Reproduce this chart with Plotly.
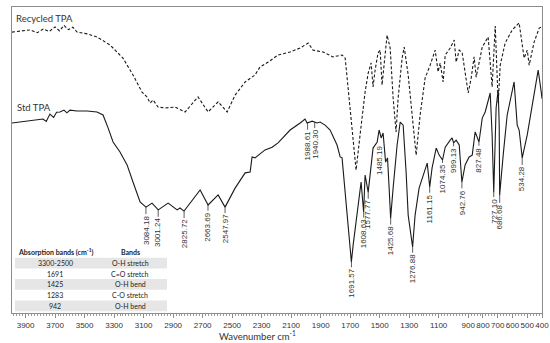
import numpy as np
import plotly.graph_objects as go

# ---------------- data ----------------
# Std TPA spectrum (wavenumber cm-1, transmittance a.u.)
std_wn = [3992, 3782, 3760, 3735, 3710, 3690, 3667, 3640, 3620, 3599, 3551, 3484, 3416, 3375,
          3341, 3307, 3260, 3212, 3172, 3124, 3084, 3043, 3001, 2934, 2873, 2853, 2826,
          2717, 2663, 2595, 2548, 2480, 2412, 2378, 2365, 2345, 2277, 2229, 2189, 2107,
          2039, 2006, 1992, 1958, 1924, 1904, 1870, 1836, 1789, 1768, 1755, 1734, 1714,
          1692, 1680, 1646, 1626, 1609, 1599, 1578, 1558, 1545, 1517, 1504, 1490, 1477,
          1460, 1447, 1436, 1426, 1409, 1382, 1361, 1341, 1321, 1307, 1277, 1260, 1233,
          1199, 1178, 1161, 1145, 1117, 1097, 1074, 1056, 1022, 1009, 999, 982, 961, 943,
          921, 894, 873, 853, 827, 805, 785, 751, 738, 727, 711, 697, 690, 687, 663, 636,
          589, 568, 555, 534, 500, 466, 426, 405, 400]
std_t = [62.1, 63.4, 62.6, 65.0, 63.9, 65.6, 65.7, 66.3, 65.4, 66.3, 66.0, 66.0, 65.7, 64.7,
         60.5, 55.9, 52.6, 48.4, 42.8, 36.3, 34.6, 35.9, 33.7, 35.9, 33.7, 34.3, 33.3,
         40.2, 35.3, 38.6, 34.6, 40.8, 45.8, 46.1, 51.0, 50.7, 53.3, 54.2, 55.6, 59.8,
         62.1, 63.4, 62.1, 62.7, 62.1, 62.4, 61.4, 59.8, 54.9, 51.0, 50.7, 39.5, 26.5,
         16.7, 22.2, 36.3, 42.8, 33.0, 45.1, 39.5, 49.3, 53.9, 55.9, 59.8, 57.2, 58.8,
         49.3, 50.7, 40.8, 31.0, 40.8, 54.9, 62.4, 61.4, 46.1, 32.0, 21.6, 32.0, 40.8,
         46.1, 49.0, 41.2, 47.4, 53.9, 51.6, 50.0, 54.2, 56.5, 57.2, 55.6, 56.5, 54.9, 42.8,
         48.4, 51.0, 51.6, 59.2, 55.9, 63.7, 65.7, 71.9, 58.2, 39.5, 67.0, 72.9, 61.4, 38.6, 51.6, 64.7,
         75.5, 61.4, 59.8, 50.7, 58.2, 68.0, 79.4, 72.2, 70.0]

# Recycled TPA spectrum
rec_wn = [3992, 3930, 3870, 3820, 3780, 3740, 3700, 3670, 3640, 3610, 3580, 3551, 3480, 3416,
          3328, 3240, 3172, 3111, 3077, 3056, 3036, 3002, 2955, 2887, 2819, 2731, 2663,
          2595, 2534, 2480, 2412, 2345, 2311, 2256, 2189, 2107, 2039, 1985, 1951, 1884,
          1816, 1755, 1734, 1714, 1687, 1660, 1633, 1599, 1578, 1558, 1545, 1531, 1511,
          1497, 1484, 1470, 1450, 1429, 1409, 1389, 1375, 1348, 1334, 1307, 1280, 1253,
          1226, 1192, 1158, 1124, 1104, 1090, 1070, 1056, 1022, 995, 982, 961, 941, 921,
          900, 880, 860, 846, 826, 805, 765, 738, 717, 697, 683, 650, 602, 555, 521, 500,
          487, 453, 419, 400]
rec_t = [91.8, 92.2, 92.5, 91.6, 92.8, 92.0, 93.5, 92.2, 94.0, 92.6, 93.4, 91.8, 91.2, 90.2,
         87.6, 83.3, 77.8, 72.2, 70.6, 68.6, 69.6, 67.3, 67.0, 67.3, 65.7, 70.6, 65.7,
         69.0, 65.7, 71.2, 75.5, 77.8, 80.4, 82.0, 84.3, 85.3, 86.6, 88.2, 85.9, 85.3,
         83.7, 84.3, 83.3, 73.5, 59.2, 46.7, 58.2, 72.2, 78.4, 81.7, 73.9, 79.4, 85.0,
         85.9, 74.5, 82.0, 90.8, 86.6, 70.3, 59.2, 70.3, 83.3, 86.9, 77.8, 64.7, 51.6,
         64.7, 76.8, 81.0, 85.9, 78.8, 81.7, 75.5, 84.3, 86.6, 89.2, 82.0, 85.9, 85.0, 77.8,
         71.9, 76.8, 83.7, 77.1, 82.0, 86.9, 90.2, 73.9, 93.8, 68.6, 81.0, 88.2, 92.5, 94.8, 83.3, 85.9,
         81.0, 88.6, 93.1, 93.5]

# Peak labels on the Std TPA curve
peak_labels = ["3084.18", "3001.24", "2825.72", "2663.69", "2547.97", "1988.61", "1940.30",
               "1691.57", "1608.63", "1577.77", "1485.19", "1425.68", "1276.88", "1161.15",
               "1074.35", "999.13", "942.76", "827.48", "727.10", "686.68", "534.28"]

# x-axis tick labels
tick_labels = [3900, 3700, 3500, 3300, 3100, 2900, 2700, 2500, 2300, 2100, 1900, 1700,
               1500, 1300, 1100, 900, 800, 700, 600, 500, 400]

# Inset table
table_header = ["<b>Absorption bands (cm<sup>-1</sup>)</b>", "<b>Bands</b>"]
band_ranges = ["3300-2500", "1691", "1425", "1283", "942"]
band_names = ["O-H stretch", "C=O stretch", "O-H bend", "C-O stretch", "O-H bend"]

series_names = ["Recycled TPA", "Std TPA"]

# ---------------- styling / layout ----------------
W, H = 550, 343
ML, MR, MT, MB = 12, 8, 7, 30
PW, PH = W - ML - MR, H - MT - MB
label_offsets = [23, 23, 23, 22, 22, 23, 22, 22, 23, 23, 0, 23, 22, 22, 19, 17.5, 20.5,
                 18, 19.5, 22.5, 21.5]
label_anchor_shift = {"1485.19": 1456}


def px_x(px):
    return (px - ML) / PW


def px_y(py):
    return (H - MB - py) / PH


fig = go.Figure()
fig.add_trace(go.Scatter(x=rec_wn, y=rec_t, mode="lines", name=series_names[0],
                         line=dict(color="#1a1a1a", width=1.1, dash="3px,2px"),
                         showlegend=False, hoverinfo="skip"))
fig.add_trace(go.Scatter(x=std_wn, y=std_t, mode="lines", name=series_names[1],
                         line=dict(color="#1a1a1a", width=1.1),
                         showlegend=False, hoverinfo="skip"))

wn_asc = np.array(std_wn[::-1], dtype=float)
t_asc = np.array(std_t[::-1], dtype=float)
for lab, off in zip(peak_labels, label_offsets):
    xv = label_anchor_shift.get(lab, float(lab))
    yv = float(np.interp(xv, wn_asc, t_asc))
    fig.add_annotation(x=xv, y=yv, text=lab, textangle=-90, showarrow=True,
                       arrowhead=0, arrowwidth=0.8, arrowcolor="#333",
                       ax=(-6 if off == 0 else 0), ay=off, standoff=0,
                       font=dict(family="Liberation Sans", size=8, color="#333"))

# series name labels
fig.add_annotation(xref="paper", x=px_x(14), y=96.1, text=series_names[0], showarrow=False,
                   xanchor="left", yanchor="middle",
                   font=dict(family="Lato", size=9.5, color="#333"))
fig.add_annotation(xref="paper", x=px_x(15), y=67.0, text=series_names[1], showarrow=False,
                   xanchor="left", yanchor="middle",
                   font=dict(family="Lato", size=9.5, color="#333"))

# axis title
fig.add_annotation(xref="paper", yref="paper", x=px_x(257), y=px_y(335.5),
                   text="Wavenumber cm<sup>-1</sup>",
                   showarrow=False, xanchor="center", yanchor="middle",
                   font=dict(family="Lato", size=9.5, color="#333"))

# inset table built from the arrays (shapes + text)
row_h = 10.7
tab_top = 247
tab_l, tab_r = 15, 167
col_c = [55, 130]
rows = [table_header] + [[a, b] for a, b in zip(band_ranges, band_names)]
for i, row in enumerate(rows):
    y0 = tab_top + i * row_h
    if i % 2 == 1:
        fig.add_shape(type="rect", xref="paper", yref="paper",
                      x0=px_x(tab_l), x1=px_x(tab_r), y0=px_y(y0 + row_h), y1=px_y(y0),
                      fillcolor="#e6e6e6", line=dict(width=0), layer="below")
    for j, txt in enumerate(row):
        fig.add_annotation(xref="paper", yref="paper", x=px_x(col_c[j]),
                           y=px_y(y0 + row_h / 2), text=txt, showarrow=False,
                           xanchor="center", yanchor="middle",
                           font=dict(family="Lato", size=7, color="#222"))

fig.update_layout(
    width=W, height=H, margin=dict(l=ML, r=MR, t=MT, b=MB, autoexpand=False),
    paper_bgcolor="white", plot_bgcolor="white", showlegend=False,
    xaxis=dict(range=[3992, 400], showgrid=False, zeroline=False, showline=True,
               mirror=True, linecolor="#8c8c8c", linewidth=1, automargin=False,
               tickmode="array", tickvals=tick_labels, ticktext=[str(t) for t in tick_labels],
               tickangle=0,
               ticks="outside", ticklen=4, tickcolor="#8c8c8c", tickwidth=1,
               tickfont=dict(family="Liberation Sans", size=8, color="#333"),
               minor=dict(tickmode="linear", tick0=0, dtick=20, ticks="outside", ticklen=2,
                          tickcolor="#9a9a9a", tickwidth=0.6)),
    yaxis=dict(range=[0, 100], showgrid=False, zeroline=False, showline=True, mirror=True,
               linecolor="#8c8c8c", linewidth=1, showticklabels=False, ticks="",
               automargin=False),
)

fig.write_html("out.html", config={"displayModeBar": False},
               post_script="document.body.style.margin='0px';"
                           "document.body.style.overflow='hidden';")
